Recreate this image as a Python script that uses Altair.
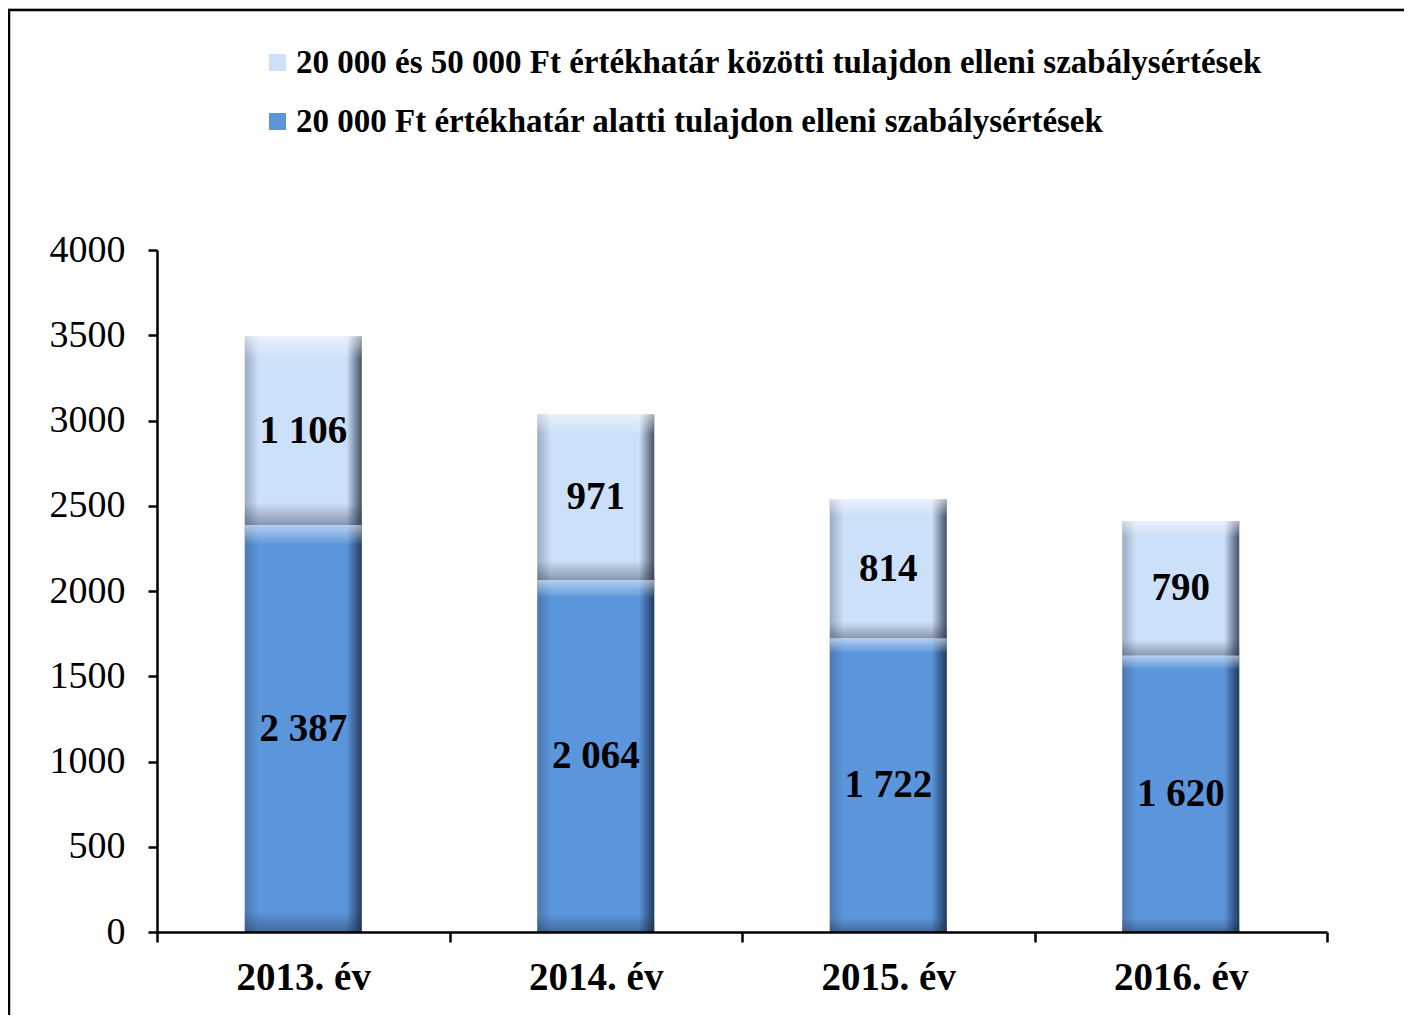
import altair as alt
import pandas as pd

years = ["2013. év", "2014. év", "2015. év", "2016. év"]
below_20k = [2387, 2064, 1722, 1620]
between_20k_50k = [1106, 971, 814, 790]

s_low = "20 000 Ft értékhatár alatti tulajdon elleni szabálysértések"
s_high = "20 000 és 50 000 Ft értékhatár közötti tulajdon elleni szabálysértések"

c_low = "#5b96dc"
c_high = "#cde0fa"

FONT = "Liberation Serif"

def fmt(v):
    return f"{v:,}".replace(",", " ")

rows = []
for yr, lo, hi in zip(years, below_20k, between_20k_50k):
    rows.append(dict(year=yr, series=s_low, y0=0, y1=lo, label=fmt(lo)))
    rows.append(dict(year=yr, series=s_high, y0=lo, y1=lo + hi, label=fmt(hi)))
df = pd.DataFrame(rows)
df["mid"] = (df["y0"] + df["y1"]) / 2

xenc = alt.X("year:N", sort=years, title=None,
             scale=alt.Scale(paddingInner=0, paddingOuter=0),
             axis=alt.Axis(labelFont=FONT, labelFontSize=39, labelFontWeight="bold",
                           labelColor="black", labelAngle=0, labelPadding=16,
                           tickBand="extent", tickSize=10, tickWidth=2.5, tickColor="black",
                           domainColor="black", domainWidth=2.5, zindex=2))
yenc = alt.Y("y0:Q", title=None,
             scale=alt.Scale(domain=[0, 4000]),
             axis=alt.Axis(values=list(range(0, 4001, 500)), grid=False, format="d",
                           labelFont=FONT, labelFontSize=38, labelColor="black",
                           labelPadding=23, tickSize=9, tickWidth=2.5, tickColor="black",
                           domainColor="black", domainWidth=2.5, zindex=2))

base = alt.Chart(df)

frame = base.mark_rect(fill="white", stroke="black", strokeWidth=2.5).encode(
    x=alt.value(-148), x2=alt.value(1400), y=alt.value(-240), y2=alt.value(900)
).transform_filter("datum.year == '2013. év' && datum.series == '%s'" % s_low)

bars = base.mark_bar(size=117).encode(
    x=xenc, y=yenc, y2="y1:Q",
    color=alt.Color("series:N",
                    scale=alt.Scale(domain=[s_high, s_low], range=[c_high, c_low]),
                    legend=alt.Legend(title=None, orient="none", legendX=104, legendY=-204,
                                      padding=0,
                                      symbolType="square", symbolSize=289,
                                      symbolStrokeWidth=0, labelFont=FONT,
                                      labelFontSize=33, labelFontWeight="bold",
                                      labelColor="black", rowPadding=25,
                                      labelLimit=1200, labelOffset=2, zindex=2)),
)

hgrad = alt.Gradient(gradient="linear", x1=0, x2=1, y1=0, y2=0, stops=[
    alt.GradientStop(offset=0, color="rgba(40,50,70,0.30)"),
    alt.GradientStop(offset=0.12, color="rgba(40,50,70,0.0)"),
    alt.GradientStop(offset=0.87, color="rgba(10,20,40,0.0)"),
    alt.GradientStop(offset=1, color="rgba(10,20,40,0.70)"),
])
shade_h = base.mark_bar(size=117, fill=hgrad).encode(
    x=alt.X("year:N", sort=years), y="y0:Q", y2="y1:Q")

def vgrad(frac):
    return alt.Gradient(gradient="linear", x1=0, x2=0, y1=0, y2=1, stops=[
        alt.GradientStop(offset=0, color="rgba(255,255,255,0.55)"),
        alt.GradientStop(offset=frac, color="rgba(255,255,255,0.0)"),
        alt.GradientStop(offset=1 - frac, color="rgba(30,40,60,0.0)"),
        alt.GradientStop(offset=1, color="rgba(30,40,60,0.40)"),
    ])

shade_v_high = base.mark_bar(size=117, fill=vgrad(0.12)).encode(
    x=alt.X("year:N", sort=years), y="y0:Q", y2="y1:Q"
).transform_filter(alt.datum.series == s_high)
shade_v_low = base.mark_bar(size=117, fill=vgrad(0.05)).encode(
    x=alt.X("year:N", sort=years), y="y0:Q", y2="y1:Q"
).transform_filter(alt.datum.series == s_low)

labels = base.mark_text(font=FONT, fontSize=39, fontWeight="bold", color="black",
                        baseline="middle").encode(
    x=alt.X("year:N", sort=years), y=alt.Y("mid:Q"), text="label:N")

chart = alt.layer(frame, bars, shade_h, shade_v_high, shade_v_low, labels).properties(
    width=1170, height=682,
    padding={"left": 149, "top": 242, "right": 77, "bottom": 83},
    autosize=alt.AutoSizeParams(type="none"),
    background="#e3e9f1",
).configure_view(stroke=None)

chart.save("out.html", embed_options={"renderer": "svg", "actions": False})
